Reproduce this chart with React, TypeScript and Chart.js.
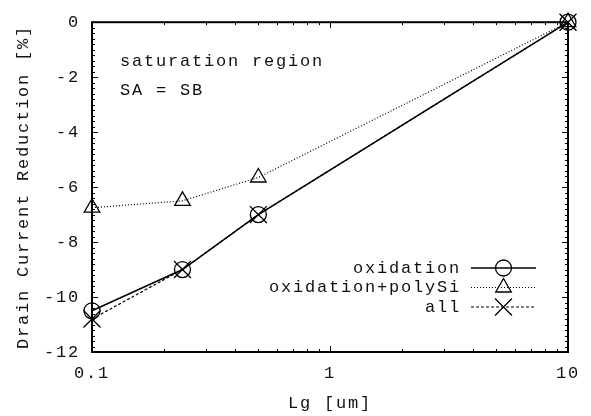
import { useEffect, useRef } from 'react';
import { Chart, registerables } from 'chart.js';

Chart.register(...registerables);

// Gate length [um] and drain current reduction [%] per stress source
const gateLengths = [0.1, 0.24, 0.5, 10];
const oxidation = [-10.5, -9.0, -7.0, 0];
const oxidationPolySi = [-6.75, -6.5, -5.65, 0];
const allEffects = [-10.8, -9.0, -7.0, 0];
const seriesLabels = ['oxidation', 'oxidation+polySi', 'all'];

const xTickValues = [0.1, 1, 10];
const yMin = -12;
const yMax = 0;
const yStep = 2;
const yMinorStep = 0.2;

const noteLines = ['saturation region', 'SA = SB'];
const xTitle = 'Lg [um]';
const yTitle = 'Drain Current Reduction [%]';

const FONT_FAMILY = '"Liberation Mono", "DejaVu Sans Mono", monospace';
const FONT_SIZE = 17;
const LETTER_SPACING = '1.8px';
const INK = '#111';

type MarkerKind = 'circle' | 'triangle' | 'crossRot';
interface SeriesStyle { marker: MarkerKind; radius: number; dash: number[]; width: number; }

const seriesStyles: SeriesStyle[] = [
  { marker: 'circle', radius: 8, dash: [], width: 1.5 },
  { marker: 'triangle', radius: 9, dash: [1, 2], width: 1.2 },
  { marker: 'crossRot', radius: 12, dash: [3, 2], width: 1.2 },
];

function drawMarker(ctx: CanvasRenderingContext2D, kind: MarkerKind, x: number, y: number, r: number) {
  ctx.beginPath();
  if (kind === 'circle') {
    ctx.arc(x, y, r, 0, Math.PI * 2);
  } else if (kind === 'triangle') {
    for (let i = 0; i < 3; i++) {
      const a = (i * 2 * Math.PI) / 3;
      const px = x + Math.sin(a) * r;
      const py = y - Math.cos(a) * r;
      if (i === 0) ctx.moveTo(px, py); else ctx.lineTo(px, py);
    }
    ctx.closePath();
  } else {
    const d = r * Math.SQRT1_2;
    ctx.moveTo(x - d, y - d); ctx.lineTo(x + d, y + d);
    ctx.moveTo(x - d, y + d); ctx.lineTo(x + d, y - d);
  }
  ctx.stroke();
}

const plotDecor = {
  id: 'plotDecor',
  beforeUpdate(chart: Chart) { (chart.ctx as any).letterSpacing = LETTER_SPACING; },
  beforeDraw(chart: Chart) { (chart.ctx as any).letterSpacing = LETTER_SPACING; },
  beforeDatasetsDraw(chart: Chart) {
    const { ctx, chartArea } = chart;
    const { left, right, top, bottom } = chartArea;
    const xs = chart.scales.x;
    const ys = chart.scales.y;
    ctx.save();
    ctx.strokeStyle = '#000';
    ctx.lineWidth = 1;
    ctx.beginPath();
    // inward ticks mirrored on left/right
    const perMajor = Math.round(yStep / yMinorStep);
    const nY = Math.round((yMax - yMin) / yMinorStep);
    for (let i = 0; i <= nY; i++) {
      const v = yMin + i * yMinorStep;
      const len = i % perMajor === 0 ? 6 : 3;
      const py = Math.round(ys.getPixelForValue(v)) + 0.5;
      ctx.moveTo(left, py); ctx.lineTo(left + len, py);
      ctx.moveTo(right, py); ctx.lineTo(right - len, py);
    }
    // log ticks mirrored on bottom/top
    for (let d = -1; d <= 1; d++) {
      for (let m = 1; m <= 9; m++) {
        const v = m * Math.pow(10, d);
        if (v > 10.0001) break;
        const len = m === 1 ? 6 : 3;
        const px = Math.round(xs.getPixelForValue(v)) + 0.5;
        ctx.moveTo(px, bottom); ctx.lineTo(px, bottom - len);
        ctx.moveTo(px, top); ctx.lineTo(px, top + len);
      }
    }
    ctx.stroke();
    ctx.lineWidth = 2;
    ctx.strokeRect(left, top, right - left, bottom - top);
    ctx.restore();
  },
  afterDraw(chart: Chart) {
    const { ctx, chartArea } = chart;
    const { left, right, top, bottom } = chartArea;
    ctx.save();
    (ctx as any).letterSpacing = LETTER_SPACING;
    ctx.font = `${FONT_SIZE}px ${FONT_FAMILY}`;
    ctx.fillStyle = INK;
    ctx.textBaseline = 'middle';
    // annotation
    ctx.textAlign = 'left';
    noteLines.forEach((t, i) => ctx.fillText(t, left + 28, top + 39 + i * 29));
    // key
    const rows = [bottom - 84, bottom - 64.5, bottom - 45];
    const lineStart = right - 97;
    const lineEnd = right - 32;
    const markX = (lineStart + lineEnd) / 2;
    seriesLabels.forEach((label, i) => {
      const st = seriesStyles[i];
      const ry = rows[i];
      ctx.textAlign = 'right';
      ctx.fillStyle = INK;
      ctx.fillText(label, right - 107, ry);
      ctx.strokeStyle = '#000';
      ctx.lineWidth = st.width;
      ctx.setLineDash(st.dash);
      ctx.beginPath();
      ctx.moveTo(lineStart, ry); ctx.lineTo(lineEnd, ry);
      ctx.stroke();
      ctx.setLineDash([]);
      ctx.lineWidth = 1.3;
      drawMarker(ctx, st.marker, markX, ry, st.radius);
    });
    ctx.restore();
  },
};

export default function App() {
  const canvasRef = useRef<HTMLCanvasElement | null>(null);

  useEffect(() => {
    const canvas = canvasRef.current;
    if (!canvas) return;
    const font = { family: FONT_FAMILY, size: FONT_SIZE };
    const seriesValues = [oxidation, oxidationPolySi, allEffects];

    const chart = new Chart(canvas, {
      type: 'scatter',
      data: {
        datasets: seriesValues.map((vals, i) => ({
          label: seriesLabels[i],
          data: gateLengths.map((x, j) => ({ x, y: vals[j] })),
          showLine: true,
          borderColor: '#000',
          borderWidth: seriesStyles[i].width,
          borderDash: seriesStyles[i].dash,
          pointStyle: seriesStyles[i].marker,
          pointRadius: seriesStyles[i].radius,
          pointHoverRadius: seriesStyles[i].radius,
          pointBorderColor: '#000',
          pointBackgroundColor: 'rgba(0,0,0,0)',
          pointBorderWidth: 1.3,
          tension: 0,
          clip: false as any,
        })),
      },
      options: {
        animation: false,
        responsive: false,
        maintainAspectRatio: false,
        layout: { padding: { top: 14, right: 19, left: 0, bottom: 0 } },
        plugins: { legend: { display: false }, tooltip: { enabled: false } },
        scales: {
          x: {
            type: 'logarithmic',
            min: 0.1,
            max: 10,
            grid: { display: false, drawTicks: false },
            border: { display: false },
            afterBuildTicks: (scale: any) => { scale.ticks = xTickValues.map((value) => ({ value })); },
            afterFit: (scale: any) => { scale.height = 64; },
            ticks: { font, color: INK, padding: 11, autoSkip: false, maxRotation: 0, callback: (v: any) => String(v) },
            title: { display: true, text: xTitle, font, color: INK, padding: { top: 0, bottom: 2 } },
          },
          y: {
            type: 'linear',
            min: yMin,
            max: yMax,
            grid: { display: false, drawTicks: false },
            border: { display: false },
            afterFit: (scale: any) => { scale.width = 92; },
            ticks: { stepSize: yStep, font, color: INK, padding: 12, callback: (v: any) => String(v) },
            title: { display: true, text: yTitle, font, color: INK, padding: { top: 13, bottom: 0 } },
          },
        },
      },
      plugins: [plotDecor],
    });
    return () => chart.destroy();
  }, []);

  return (
    <div style={{ position: 'fixed', left: 0, top: 0, width: 591, height: 416, background: '#fff' }}>
      <canvas ref={canvasRef} width={591} height={416} style={{ display: 'block' }} />
    </div>
  );
}
